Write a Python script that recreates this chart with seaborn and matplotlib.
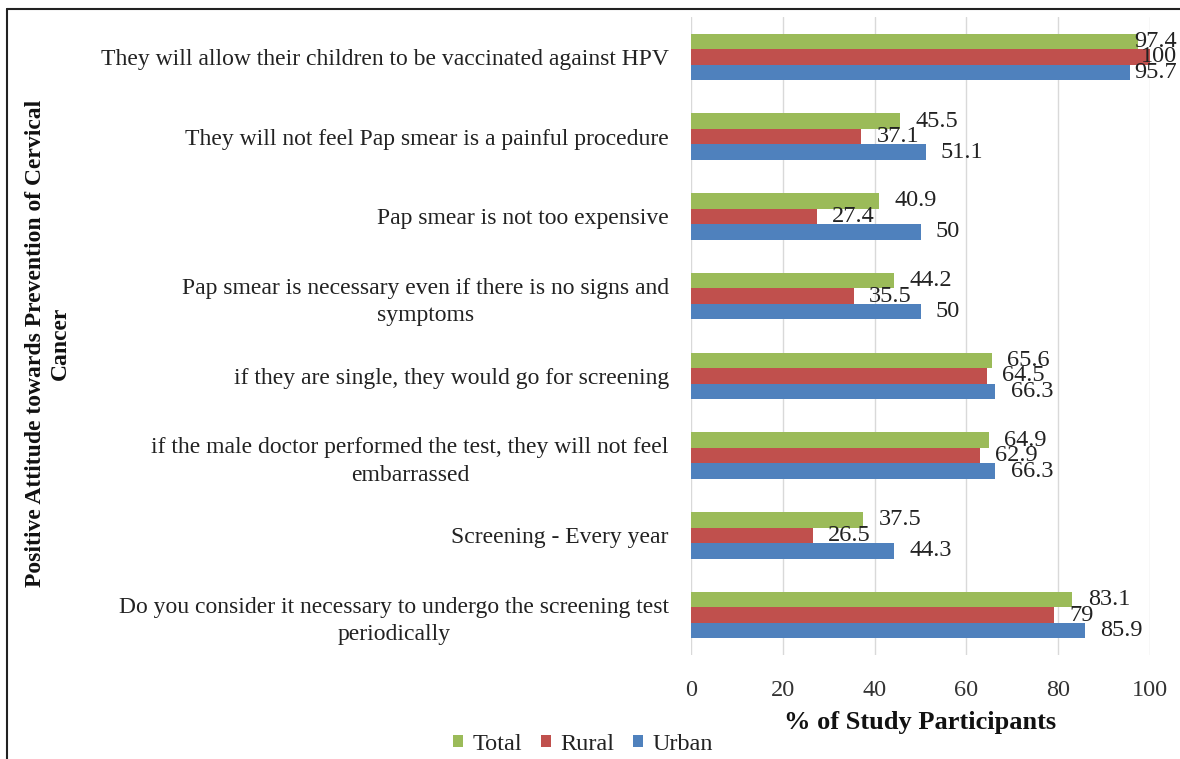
import matplotlib
matplotlib.use("Agg")
import matplotlib.pyplot as plt
from matplotlib.lines import Line2D
import seaborn as sns
import pandas as pd

# Survey items (top to bottom)
statements = [
    "They will allow their children to be vaccinated against HPV",
    "They will not feel Pap smear is a painful procedure",
    "Pap smear is not too expensive",
    "Pap smear is necessary even if there is no signs and\nsymptoms",
    "if they are single, they would go for screening",
    "if the male doctor performed the test, they will not feel\nembarrassed",
    "Screening - Every year",
    "Do you consider it necessary to undergo the screening test\nperiodically",
]
groups = ["Total", "Rural", "Urban"]
total = [97.4, 45.5, 40.9, 44.2, 65.6, 64.9, 37.5, 83.1]
rural = [100, 37.1, 27.4, 35.5, 64.5, 62.9, 26.5, 79]
urban = [95.7, 51.1, 50, 50, 66.3, 66.3, 44.3, 85.9]
x_ticks = [0, 20, 40, 60, 80, 100]

colors = {"Total": "#9BBB59", "Rural": "#C0504D", "Urban": "#4F81BD"}

rows = []
for g, vals in zip(groups, [total, rural, urban]):
    for s, v in zip(statements, vals):
        rows.append({"Statement": s, "Group": g, "Percent": v})
df = pd.DataFrame(rows)

sns.set_theme(style="white")
plt.rcParams["font.family"] = ["Liberation Serif", "DejaVu Serif"]
plt.rcParams["text.color"] = "#222222"

W, H = 1180, 759
fig = plt.figure(figsize=(W / 100, H / 100), dpi=100)
ax = fig.add_axes([691 / W, 1 - 655 / H, (1150 - 691) / W, (655 - 17) / H])

sns.barplot(
    data=df, y="Statement", x="Percent", hue="Group",
    order=statements, hue_order=groups, palette=colors,
    orient="h", width=0.58, ax=ax, legend=True, saturation=1,
    linewidth=0,
)

ax.set_xlim(0, 100)
ax.set_xticks(x_ticks)
ax.set_xticklabels([str(t) for t in x_ticks], fontsize=17.5, color="#333333")
ax.tick_params(axis="y", length=0, pad=16, labelsize=17, labelcolor="#222222")
ax.tick_params(axis="x", length=0, pad=18)
for lbl in ax.get_yticklabels():
    lbl.set_multialignment("center")
    lbl.set_linespacing(1.4)
ax.set_ylabel("")
ax.set_xlabel("% of Study Participants", fontsize=19, fontweight="bold",
              labelpad=7.5, color="#111111")
ax.grid(axis="x", color="#D9D9D9", linewidth=1)
ax.set_axisbelow(True)
for sp in ax.spines.values():
    sp.set_visible(False)

value_labels = []
for cont in ax.containers:
    value_labels += ax.bar_label(cont, labels=[f"{v:g}" for v in cont.datavalues],
                                 padding=11, fontsize=17.5, color="#222222")

# Keep value labels inside the figure: pull back any label past the right edge
fig.canvas.draw()
renderer = fig.canvas.get_renderer()
for t in value_labels:
    bb = t.get_window_extent(renderer)
    limit = fig.bbox.width - 3
    if bb.x1 > limit:
        dx_pts = (bb.x1 - limit) * 72 / fig.dpi
        x0, y0 = t.xyann
        t.xyann = (x0 - dx_pts, y0)

handles, labels = ax.get_legend_handles_labels()
ax.legend_.remove()
fig.legend(handles, labels, loc="center", bbox_to_anchor=(583 / W, 1 - 744 / H),
           ncol=3, frameon=False, fontsize=17.5, handlelength=0.42, handleheight=0.42,
           handletextpad=0.4, columnspacing=0.75)

fig.text(48 / W, 1 - 343 / H,
         "Positive Attitude towards Prevention of Cervical\nCancer",
         rotation=90, ha="center", va="center", multialignment="center",
         fontsize=17, fontweight="bold", color="#111111", linespacing=1.25)

# Frame lines around the chart area
fig.add_artist(Line2D([7 / W, 7 / W], [0, 1 - 9 / H],
                      transform=fig.transFigure, color="#222222", linewidth=1.5))
fig.add_artist(Line2D([7 / W, 1], [1 - 9 / H, 1 - 9 / H],
                      transform=fig.transFigure, color="#222222", linewidth=1.5))

fig.savefig("out.png", dpi=100)
